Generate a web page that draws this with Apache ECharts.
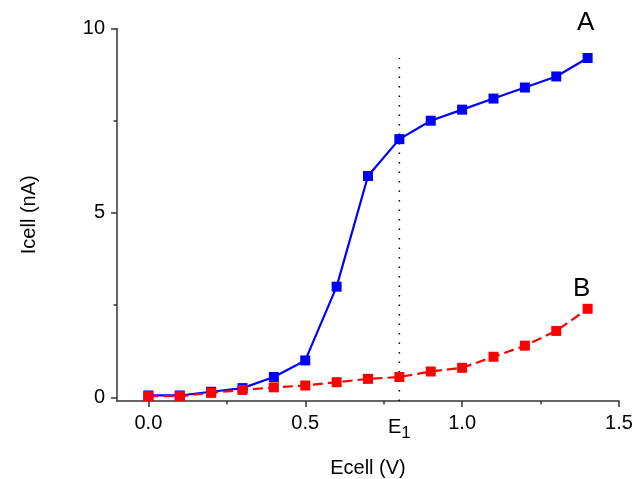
<!DOCTYPE html>
<html>
<head>
<meta charset="utf-8">
<script src="https://cdn.jsdelivr.net/npm/echarts@6/dist/echarts.min.js"></script>
<style>html,body{margin:0;padding:0;background:#fff;}#c{width:635px;height:479px;}</style>
</head>
<body>
<div id="c"></div>
<script>
const ecell = [0.0, 0.1, 0.2, 0.3, 0.4, 0.5, 0.6, 0.7, 0.8, 0.9, 1.0, 1.1, 1.2, 1.3, 1.4];
const seriesA = [0.05, 0.05, 0.15, 0.25, 0.55, 1.0, 3.0, 6.0, 7.0, 7.5, 7.8, 8.1, 8.4, 8.7, 9.2];
const seriesB = [0.03, 0.03, 0.12, 0.2, 0.27, 0.32, 0.41, 0.5, 0.55, 0.7, 0.8, 1.1, 1.4, 1.8, 2.4];
const xMajor = [0.0, 0.5, 1.0, 1.5];
const xMinor = [0.25, 0.75, 1.25];
const yMajor = [0, 5, 10];
const yMinor = [2.5, 7.5];
const e1Value = 0.8;
const e1Line = [[0.8, -0.1], [0.8, 9.2]];

const font = 'Liberation Sans, Arial, sans-serif';
const axisColor = '#333';
const chart = echarts.init(document.getElementById('c'));
const pair = (xs, ys) => xs.map((x, i) => [x, ys[i]]);

chart.setOption({
  animation: false,
  backgroundColor: '#fff',
  grid: { left: 117, right: 16, top: 28.5, bottom: 78, containLabel: false, outerBoundsMode: 'none' },
  xAxis: [{
    type: 'value', min: -0.1, max: 1.5,
    name: 'Ecell (V)', nameLocation: 'middle', nameGap: 57,
    nameTextStyle: { fontFamily: font, fontSize: 20, color: '#000' },
    axisLine: { show: true, onZero: false, lineStyle: { color: axisColor, width: 1.5 } },
    axisTick: { show: true, customValues: xMajor, length: 6, lineStyle: { color: axisColor, width: 1.5 } },
    axisLabel: {
      customValues: xMajor.concat([e1Value]), margin: 12,
      fontFamily: font, fontSize: 20, color: '#000',
      formatter: v => Math.abs(v - e1Value) < 1e-9 ? '{e|E}{s|1}' : v.toFixed(1),
      rich: { e: { fontFamily: font, fontSize: 20, color: '#000' }, s: { fontFamily: font, fontSize: 17, color: '#000', padding: [12, 0, 0, 0] } }
    },
    splitLine: { show: false }
  }, {
    type: 'value', min: -0.1, max: 1.5, position: 'bottom',
    axisLine: { show: false, onZero: false },
    axisTick: { show: true, customValues: xMinor, length: 3.5, lineStyle: { color: axisColor, width: 1.5 } },
    axisLabel: { show: false }, splitLine: { show: false }
  }],
  yAxis: [{
    type: 'value', min: -0.1, max: 10,
    name: 'Icell (nA)', nameLocation: 'middle', nameGap: 78,
    nameTextStyle: { fontFamily: font, fontSize: 20, color: '#000' },
    axisLine: { show: true, onZero: false, lineStyle: { color: axisColor, width: 1.5 } },
    axisTick: { show: true, customValues: yMajor, length: 6, lineStyle: { color: axisColor, width: 1.5 } },
    axisLabel: { customValues: yMajor, margin: 12, fontFamily: font, fontSize: 20, color: '#000' },
    splitLine: { show: false }
  }, {
    type: 'value', min: -0.1, max: 10, position: 'left',
    axisLine: { show: false, onZero: false },
    axisTick: { show: true, customValues: yMinor, length: 3.5, lineStyle: { color: axisColor, width: 1.5 } },
    axisLabel: { show: false }, splitLine: { show: false }
  }],
  series: [{
    name: 'E1', type: 'line', data: e1Line, symbol: 'none', silent: true,
    lineStyle: { color: '#000', width: 1.5, type: [1.5, 8] }
  }, {
    name: 'A', type: 'line', data: pair(ecell, seriesA),
    symbol: 'rect', symbolSize: 10,
    itemStyle: { color: '#0000ff' },
    lineStyle: { color: '#0000ff', width: 2.2 }
  }, {
    name: 'B', type: 'line', data: pair(ecell, seriesB),
    symbol: 'rect', symbolSize: 10,
    itemStyle: { color: '#ff0000' },
    lineStyle: { color: '#ff0000', width: 2.2, type: [10, 5] }
  }],
  graphic: [
    { type: 'text', left: 577, top: 10, style: { text: 'A', fontFamily: font, fontSize: 26, fill: '#000' } },
    { type: 'text', left: 573, top: 276, style: { text: 'B', fontFamily: font, fontSize: 26, fill: '#000' } }
  ]
});
</script>
</body>
</html>
